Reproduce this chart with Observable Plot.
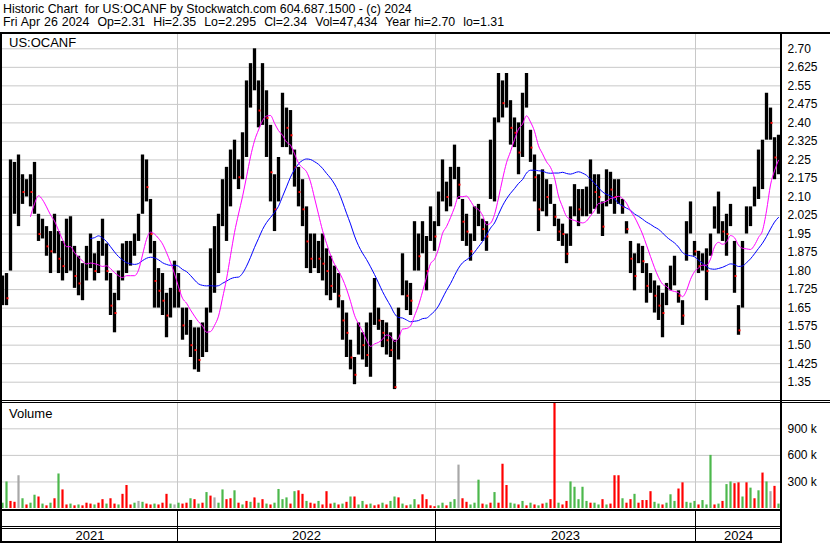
<!DOCTYPE html>
<html><head><meta charset="utf-8">
<script src="https://cdn.jsdelivr.net/npm/d3@7"></script>
<script src="https://cdn.jsdelivr.net/npm/@observablehq/plot@0.6"></script>
<style>
body{margin:0;background:#fff;}
#chart{position:relative;width:830px;height:543px;overflow:hidden;background:#fff;font-family:"Liberation Sans",Arial,sans-serif;color:#000;}
.abs{position:absolute;}
.hdr{position:absolute;left:3px;white-space:pre;line-height:13px;}
.bl{position:absolute;background:#000;}
.lbl{position:absolute;font-size:13px;}
</style></head><body><div id="chart"></div>
<script>
// ---- Data (one bar group every 4 trading days) ----
const symbol = "US:OCANF";
const titleLine1 = "Historic Chart  for US:OCANF by Stockwatch.com 604.687.1500 - (c) 2024";
const titleLine2 = "Fri Apr 26 2024  Op=2.31  Hi=2.35  Lo=2.295  Cl=2.34  Vol=47,434  Year hi=2.70  lo=1.31";
const dayStep = 4;           // trading days per bar group
const lastDay = 779;         // trading-day index of Apr 26 2024
const years = ["2021", "2022", "2023", "2024"];
const yearStartDay = [0, 175, 433, 693];
const priceTickLabels = ["2.70","2.625","2.55","2.475","2.40","2.325","2.25","2.175","2.10","2.025","1.95","1.875","1.80","1.725","1.65","1.575","1.50","1.425","1.35"];
const volTickLabels = ["300 k", "600 k", "900 k"];
const volTickValues = [300, 600, 900]; // thousands
const maShortWin = 8;   // ~30 trading days
const maLongWin = 23;   // ~90 trading days

const hi = [1.78,1.79,2.25,2.24,2.27,2.19,2.17,2.19,2.24,2.03,
2.01,1.98,1.96,2.03,1.96,1.92,2.01,2.02,1.90,1.86,
1.83,1.90,1.95,1.87,1.92,2.01,1.91,1.79,1.71,1.80,
1.91,1.92,1.92,1.95,2.03,2.27,2.25,2.09,1.92,1.81,
1.79,1.71,1.73,1.84,1.79,1.65,1.65,1.60,1.57,1.57,
1.59,1.65,1.89,1.98,2.03,2.17,2.22,2.29,2.33,2.25,
2.36,2.57,2.64,2.70,2.57,2.64,2.53,2.39,2.19,2.26,
2.52,2.46,2.45,2.29,2.22,2.17,2.06,1.95,1.95,1.92,
1.95,1.89,1.86,1.82,1.79,1.68,1.63,1.52,1.45,1.59,
1.55,1.59,1.63,1.77,1.65,1.60,1.59,1.55,1.52,1.65,
1.87,1.76,1.75,2.00,1.95,2.00,1.94,2.06,2.00,2.12,
2.25,2.16,2.22,2.31,2.22,2.09,2.03,1.95,2.06,2.07,
2.01,2.00,2.33,2.42,2.60,2.57,2.60,2.49,2.42,2.40,
2.52,2.60,2.37,2.27,2.19,2.21,2.17,2.15,2.07,2.01,
1.99,1.95,2.06,2.15,2.13,2.13,2.14,2.25,2.19,2.19,
2.08,2.21,2.20,2.17,2.17,2.09,2.00,1.92,1.87,1.91,
1.90,1.83,1.79,1.76,1.74,1.71,1.75,1.82,1.86,1.72,
1.68,2.00,2.08,1.92,1.88,1.87,1.89,1.95,2.06,2.12,
2.00,2.03,2.07,1.92,1.66,1.92,2.06,2.06,2.14,2.29,
2.33,2.52,2.46,2.34,2.35];
const lo = [1.66,1.66,1.80,2.03,1.98,2.07,2.10,2.06,2.03,1.92,
1.93,1.86,1.79,1.87,1.79,1.76,1.79,1.80,1.73,1.70,
1.68,1.76,1.81,1.76,1.79,1.86,1.76,1.62,1.55,1.68,
1.76,1.79,1.82,1.86,1.92,2.03,2.08,1.87,1.65,1.65,
1.62,1.53,1.61,1.65,1.65,1.52,1.54,1.45,1.40,1.39,
1.45,1.47,1.63,1.71,1.79,1.98,1.92,2.06,2.17,2.13,
2.17,2.26,2.46,2.53,2.38,2.39,2.26,2.08,1.96,2.08,
2.30,2.30,2.27,2.14,2.06,1.98,1.81,1.79,1.81,1.79,
1.76,1.70,1.68,1.71,1.65,1.52,1.45,1.40,1.34,1.46,
1.44,1.41,1.37,1.58,1.56,1.49,1.46,1.45,1.32,1.44,
1.70,1.64,1.62,1.80,1.80,1.87,1.72,1.92,1.88,1.98,
2.08,2.04,2.06,2.17,2.09,1.92,1.90,1.84,1.92,1.98,
1.92,1.88,2.09,2.08,2.40,2.42,2.46,2.31,2.30,2.19,
2.26,2.46,2.24,2.08,1.96,2.04,2.02,2.07,1.98,1.92,
1.90,1.83,1.90,2.02,1.98,2.02,2.02,2.03,2.05,2.03,
1.94,2.06,2.07,2.03,2.07,2.03,1.95,1.79,1.72,1.83,
1.79,1.67,1.71,1.63,1.60,1.53,1.66,1.72,1.74,1.67,
1.58,1.84,1.95,1.86,1.79,1.80,1.68,1.86,1.97,1.95,
1.92,1.86,1.98,1.71,1.54,1.65,1.95,1.98,2.06,2.09,
2.13,2.33,2.33,2.17,2.19];
const close = [1.72,1.69,2.10,2.13,2.14,2.12,2.15,2.12,2.13,1.95,
1.97,1.90,1.88,1.92,1.85,1.82,1.90,1.95,1.78,1.75,
1.76,1.82,1.88,1.80,1.86,1.90,1.80,1.66,1.63,1.72,
1.82,1.86,1.86,1.90,1.98,2.15,2.14,1.95,1.76,1.72,
1.68,1.62,1.66,1.78,1.72,1.58,1.60,1.50,1.48,1.44,
1.52,1.58,1.74,1.78,1.90,2.08,2.10,2.20,2.27,2.18,
2.30,2.42,2.55,2.60,2.45,2.50,2.42,2.20,2.05,2.18,
2.40,2.38,2.35,2.22,2.12,2.05,1.92,1.85,1.88,1.85,
1.83,1.80,1.74,1.75,1.70,1.60,1.55,1.45,1.38,1.52,
1.50,1.46,1.50,1.68,1.60,1.55,1.52,1.48,1.33,1.56,
1.80,1.70,1.68,1.88,1.86,1.92,1.80,2.00,1.94,2.04,
2.18,2.10,2.15,2.25,2.15,2.00,1.96,1.88,1.98,2.02,
1.97,1.94,2.20,2.28,2.50,2.48,2.52,2.38,2.36,2.28,
2.36,2.55,2.30,2.18,2.05,2.12,2.10,2.10,2.02,1.96,
1.95,1.87,1.96,2.08,2.05,2.07,2.08,2.13,2.12,2.10,
1.98,2.14,2.13,2.10,2.12,2.06,1.97,1.85,1.78,1.88,
1.84,1.74,1.75,1.70,1.66,1.63,1.70,1.76,1.80,1.70,
1.62,1.90,2.02,1.88,1.82,1.85,1.80,1.90,2.02,2.04,
1.96,1.95,2.03,1.78,1.56,1.80,2.00,2.02,2.10,2.20,
2.25,2.42,2.40,2.26,2.34];
// volume in thousands, colour code: g = up, r = down, a = unchanged
const volume = [60,300,80,70,370,110,40,60,150,130,
50,30,60,110,390,210,40,50,30,40,
30,60,50,40,60,100,50,110,50,40,
160,260,40,60,80,70,50,40,50,40,
60,160,50,40,60,50,60,110,100,50,
60,180,140,120,60,210,100,110,200,60,
40,80,70,120,60,100,50,40,60,215,
100,120,50,190,200,160,80,60,50,80,
40,190,50,60,40,50,70,130,130,40,
80,40,50,30,40,60,40,80,130,120,
50,30,40,100,40,155,100,30,20,30,
60,30,70,100,490,110,70,40,60,320,
50,40,60,180,60,500,260,60,50,40,
80,30,60,40,30,50,60,100,1300,60,
40,80,300,240,100,240,80,60,60,40,
100,40,50,370,370,110,60,100,160,60,
90,90,190,70,50,40,60,155,80,220,
290,70,60,80,40,90,40,600,40,50,
80,270,300,280,290,130,290,230,110,200,
400,300,190,250,50];
const volColor = ["g","g","r","r","a","g","r","g","g","r",
"g","r","g","r","g","r","r","g","r","g",
"r","r","r","g","r","r","g","r","r","g",
"r","r","r","g","a","g","r","r","g","r",
"r","r","g","a","g","r","r","g","r","g",
"r","g","r","a","g","g","r","r","g","r",
"g","r","g","r","g","r","g","r","g","g",
"g","g","r","g","r","r","g","r","r","g",
"r","r","r","g","r","g","r","g","r","g",
"g","r","g","r","r","g","r","g","g","r",
"g","r","g","g","r","r","r","r","r","g",
"g","r","g","g","a","r","r","g","g","g",
"r","g","r","g","r","r","r","g","g","r",
"g","r","g","r","g","r","g","r","r","g",
"r","r","g","g","g","g","g","r","g","g",
"r","g","r","r","r","g","r","r","g","r",
"r","r","r","g","g","r","g","g","g","r",
"r","g","g","g","r","g","g","g","r","g",
"r","g","g","r","r","g","r","g","r","g",
"r","g","a","r","g"];

// ---- Derived tables ----
const colorMap = {g: "#4cb84c", r: "#ff0000", a: "#a8a8a8"};
const bars = hi.map((h, i) => ({day: i * dayStep, hi: h, lo: lo[i], close: close[i],
  down: i > 0 && close[i] < close[i - 1]}));
function movingAvg(vals, k) {
  return vals.map((v, i) => i < k - 1 ? null : d3.mean(vals.slice(i - k + 1, i + 1)));
}
const maS = movingAvg(close, maShortWin).map((v, i) => ({day: i * dayStep, v})).filter(d => d.v != null);
const maL = movingAvg(close, maLongWin).map((v, i) => ({day: i * dayStep, v})).filter(d => d.v != null);
const vols = volume.map((v, i) => ({day: i * dayStep, v, c: colorMap[volColor[i]]}));
const priceTicks = priceTickLabels.map(Number);
const yearMid = years.map((y, i) => ({y, mid: (yearStartDay[i] + (i < years.length - 1 ? yearStartDay[i + 1] : lastDay)) / 2}));

const W = 830, ML = 2, MR = 49;
const xOpt = {domain: [0, lastDay], axis: null};
const svgStyle = {fontFamily: "'Liberation Sans', Arial, sans-serif", fontSize: "12px", background: "transparent", overflow: "visible"};
const root = document.getElementById("chart");
function place(el, top) {
  const wrap = document.createElement("div");
  wrap.className = "abs"; wrap.style.left = "0px"; wrap.style.top = top + "px";
  wrap.appendChild(el); root.appendChild(wrap);
}

// Price panel (y 33 -> 400)
const pricePlot = Plot.plot({
  width: W, height: 367, marginLeft: ML, marginRight: MR, marginTop: 0, marginBottom: 0,
  style: svgStyle,
  x: xOpt,
  y: {domain: [1.2759, 2.762], axis: null},
  marks: [
    Plot.ruleY(priceTicks, {stroke: "#c8c8c8", strokeWidth: 1}),
    Plot.ruleX(yearStartDay.slice(1), {stroke: "#c8c8c8", strokeWidth: 1}),
    Plot.ruleX(bars, {x: "day", y1: "lo", y2: "hi", stroke: "#000", strokeWidth: 3.3}),
    Plot.dot(bars.filter(d => d.down), {x: d => d.day + 1, y: "close", r: 1.1, symbol: "square", fill: "#ff0000", stroke: null}),
    Plot.line(maL, {x: "day", y: "v", stroke: "#0000ff", strokeWidth: 1, curve: "monotone-x"}),
    Plot.line(maS, {x: "day", y: "v", stroke: "#ff00ff", strokeWidth: 1, curve: "monotone-x"}),
    Plot.text(priceTickLabels, {y: d => +d, text: d => d, frameAnchor: "right", textAnchor: "start", dx: 6, fontSize: 12, fill: "#000"})
  ]
});
place(pricePlot, 33);

// Volume panel (y 403 -> 508)
const volPlot = Plot.plot({
  width: W, height: 105, marginLeft: ML, marginRight: MR, marginTop: 0, marginBottom: 0,
  style: svgStyle,
  x: xOpt,
  y: {domain: [0, 1186], axis: null},
  marks: [
    Plot.ruleY(volTickValues, {stroke: "#c8c8c8", strokeWidth: 1}),
    Plot.ruleX(yearStartDay.slice(1), {stroke: "#c8c8c8", strokeWidth: 1}),
    Plot.ruleX(vols, {x: "day", y1: 0, y2: d => Math.min(d.v, 1186), stroke: "c", strokeWidth: 2.2}),
    Plot.text(volTickValues, {y: d => d, text: (d, i) => volTickLabels[i], frameAnchor: "right", textAnchor: "start", dx: 6, fontSize: 12, fill: "#000"})
  ]
});
place(volPlot, 403);

// Year axis (y 511 -> 543)
const yearPlot = Plot.plot({
  width: W, height: 32, marginLeft: ML, marginRight: MR, marginTop: 0, marginBottom: 0,
  style: svgStyle,
  x: xOpt,
  y: {domain: [0, 1], axis: null},
  marks: [
    Plot.ruleX(yearStartDay.slice(1), {y1: 0, y2: 1, stroke: "#000", strokeWidth: 1}),
    Plot.text(yearMid, {x: "mid", y: 0.23, text: "y", fontSize: 13, fill: "#000"})
  ]
});
place(yearPlot, 511);

// Header and labels
function addDiv(cls, css, text) {
  const d = document.createElement("div");
  d.className = cls; Object.assign(d.style, css);
  if (text != null) d.textContent = text;
  root.appendChild(d);
  return d;
}
// fit the header font so the lines span the same widths as the reference
const ctx = document.createElement("canvas").getContext("2d");
ctx.font = "14px 'Liberation Sans'";
const hdrSize = Math.min(14, 14 * 409 / ctx.measureText(titleLine1).width);
ctx.font = hdrSize + "px 'Liberation Sans'";
const nSpaces2 = titleLine2.split(" ").length - 1;
const ws2 = Math.max(0, (502 - ctx.measureText(titleLine2).width) / nSpaces2);
addDiv("hdr", {top: "3px", fontSize: hdrSize + "px"}, titleLine1);
addDiv("hdr", {top: "16px", fontSize: hdrSize + "px", wordSpacing: ws2 + "px"}, titleLine2);
addDiv("lbl", {left: "9px", top: "35px"}, symbol);
addDiv("lbl", {left: "9px", top: "406px"}, "Volume");
// frame lines
addDiv("bl", {left: "0px", top: "32px", width: "830px", height: "2px"});
addDiv("bl", {left: "0px", top: "32px", width: "2px", height: "511px"});
addDiv("bl", {left: "780px", top: "32px", width: "2px", height: "511px"});
addDiv("bl", {left: "0px", top: "400px", width: "830px", height: "1px"});
addDiv("bl", {left: "0px", top: "402px", width: "830px", height: "1px"});
addDiv("bl", {left: "0px", top: "509px", width: "782px", height: "2px"});
addDiv("bl", {left: "0px", top: "526px", width: "782px", height: "1px"});
addDiv("bl", {left: "0px", top: "528px", width: "782px", height: "1px"});
addDiv("bl", {left: "0px", top: "541px", width: "782px", height: "2px"});
</script></body></html>
